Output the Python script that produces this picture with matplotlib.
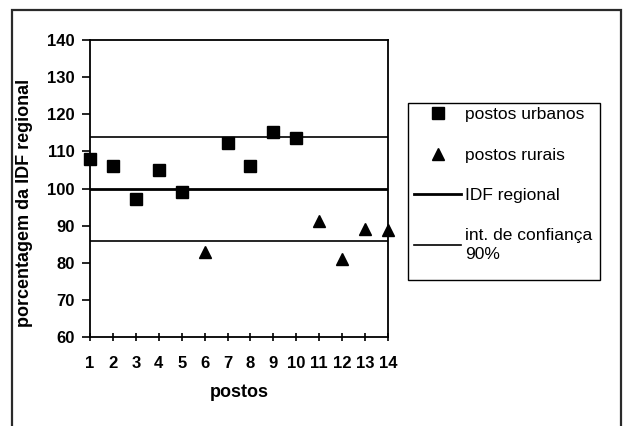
import matplotlib
matplotlib.use('Agg')
import matplotlib.pyplot as plt
from matplotlib.patches import Rectangle

# postos e porcentagens em relação à IDF regional
postos = list(range(1, 15))
postos_urbanos = [1, 2, 3, 4, 5, 7, 8, 9, 10]
pct_urbanos = [108.0, 106.0, 97.2, 105.0, 99.2, 112.2, 106.2, 115.2, 113.6]
postos_rurais = [6, 11, 12, 13, 14]
pct_rurais = [82.8, 91.2, 81.1, 89.1, 88.9]
idf_regional = 100
conf_sup = 114
conf_inf = 86

plt.rcParams['font.family'] = ['Liberation Sans', 'DejaVu Sans']

W, H = 627, 426
fig = plt.figure(figsize=(W / 100, H / 100), dpi=100)
ax = fig.add_axes([0.1435, 0.2089, 0.4753, 0.697])

ax.plot(postos_urbanos, pct_urbanos, 's', color='black', ms=8,
        clip_on=False, zorder=3, label='postos urbanos')
ax.plot(postos_rurais, pct_rurais, '^', color='black', ms=9,
        clip_on=False, zorder=3, label='postos rurais')
ax.plot(postos, [idf_regional] * len(postos), color='black', lw=2.0, label='IDF regional')
ax.plot(postos, [conf_sup] * len(postos), color='black', lw=1.2,
        label='int. de confiança\n90%')
ax.plot(postos, [conf_inf] * len(postos), color='black', lw=1.2)

ax.set_xlim(1, 14)
ax.set_ylim(60, 140)
ax.set_xticks(postos)
ax.set_yticks(range(60, 141, 10))
for s in ax.spines.values():
    s.set_linewidth(1.3)
ax.tick_params(axis='x', direction='inout', length=6, width=1.2, pad=11, labelsize=12)
ax.tick_params(axis='y', direction='out', length=6, width=1.2, pad=5, labelsize=12)
for lab in ax.get_xticklabels() + ax.get_yticklabels():
    lab.set_fontweight('bold')

ax.set_xlabel('postos', fontsize=13, fontweight='bold', labelpad=9)
ax.set_ylabel('porcentagem da IDF regional', fontsize=13, fontweight='bold')
ax.yaxis.set_label_coords(-0.191, 0.451)

# legenda sem moldura; a caixa é desenhada à parte
leg = ax.legend(loc='upper left', bbox_to_anchor=(410 / W, 1 - 103 / H),
                bbox_transform=fig.transFigure, fontsize=12.5, frameon=False,
                labelspacing=1.45, handlelength=2.7, handletextpad=0.2,
                borderpad=0.25, borderaxespad=0)
leg.get_texts()[3].set_linespacing(1.3)
fig.add_artist(Rectangle((408 / W, 1 - 280 / H), 192 / W, 177 / H,
                         transform=fig.transFigure, fill=False,
                         edgecolor='black', lw=1.0))

# moldura externa
fig.add_artist(Rectangle((12 / W, -0.05), 609 / W, 1.05 - 10 / H,
                         transform=fig.transFigure, fill=False,
                         edgecolor='#2a2a2a', lw=1.6))

fig.savefig('out.png', dpi=100)
